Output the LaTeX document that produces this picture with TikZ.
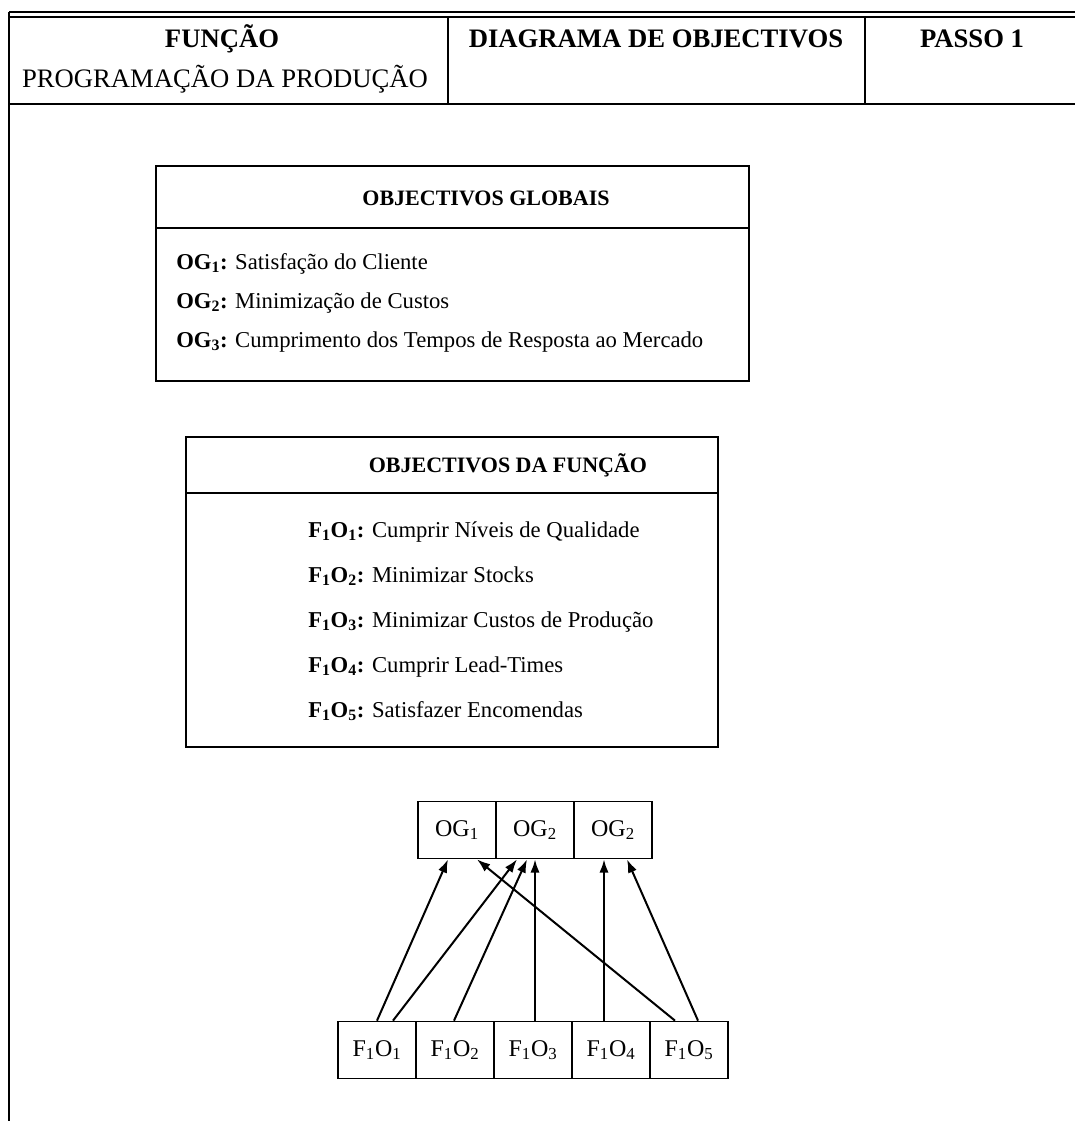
\documentclass[tikz,border=0pt]{standalone}
\usepackage{fontspec}
\setmainfont{Liberation Serif}
\usetikzlibrary{arrows.meta}
\begin{document}
\begin{tikzpicture}[x=0.75pt,y=-0.75pt,
  rule/.style={line width=1.4pt},
  thinrule/.style={line width=1.1pt},
  hdbold/.style={anchor=base,inner sep=0pt,font=\bfseries\fontsize{20}{24}\selectfont},
  hdreg/.style={anchor=base,inner sep=0pt,font=\fontsize{20}{24}\selectfont},
  boxtitle/.style={anchor=base,inner sep=0pt,font=\bfseries\fontsize{16.5}{20}\selectfont},
  row/.style={anchor=base west,inner sep=0pt,font=\fontsize{17}{20}\selectfont},
  panel/.style={draw,rule,anchor=north west,inner sep=0pt},
  cell/.style={draw,line width=1.3pt,minimum width=78*0.75pt,minimum height=57*0.75pt,
               inner sep=0pt,font=\fontsize{18}{20}\selectfont},
  link/.style={line width=1.5pt,-{Latex[length=10pt,width=7pt]}}
]
\useasboundingbox (0,0) rectangle (1075,1121);

% page frame and title block
\draw[thinrule] (9,12) -- (1075,12);
\draw[thinrule] (9,17) -- (1075,17);
\draw[line width=1.8pt] (9,104) -- (1075,104);
\draw[rule] (9,12) -- (9,1121);
\draw[rule] (448,17) -- (448,104);
\draw[rule] (865,17) -- (865,104);

\node[hdbold] (funcao) at (222,47) {FUNÇÃO};
\node[hdreg]  (prog)   at (225,87) {PROGRAMAÇÃO DA PRODUÇÃO};
\node[hdbold] (diag)   at (656,47) {DIAGRAMA DE OBJECTIVOS};
\node[hdbold] (passo)  at (972,47) {PASSO 1};

% global objectives panel
\node[panel,minimum width=593*0.75pt,minimum height=215*0.75pt] (og) at (155,165) {};
\draw[rule] (155,228) -- (748,228);
\node[boxtitle] (ogt) at (486,205) {OBJECTIVOS GLOBAIS};
\node[row] (og1t) at (176,269) {\textbf{OG\textsubscript{1}:} Satisfação do Cliente};
\node[row] (og2t) at (176,308) {\textbf{OG\textsubscript{2}:} Minimização de Custos};
\node[row] (og3t) at (176,347) {\textbf{OG\textsubscript{3}:} Cumprimento dos Tempos de Resposta ao Mercado};

% function objectives panel
\node[panel,minimum width=532*0.75pt,minimum height=310*0.75pt] (fo) at (185,436) {};
\draw[line width=2pt] (185,493) -- (717,493);
\node[boxtitle] (fot) at (508,472) {OBJECTIVOS DA FUNÇÃO};
\node[row] (fo1t) at (308,537) {\textbf{F\textsubscript{1}O\textsubscript{1}:} Cumprir Níveis de Qualidade};
\node[row] (fo2t) at (308,582) {\textbf{F\textsubscript{1}O\textsubscript{2}:} Minimizar Stocks};
\node[row] (fo3t) at (308,627) {\textbf{F\textsubscript{1}O\textsubscript{3}:} Minimizar Custos de Produção};
\node[row] (fo4t) at (308,672) {\textbf{F\textsubscript{1}O\textsubscript{4}:} Cumprir Lead-Times};
\node[row] (fo5t) at (308,717) {\textbf{F\textsubscript{1}O\textsubscript{5}:} Satisfazer Encomendas};

% relation diagram
\node[cell] (g1) at (457,830) {OG\textsubscript{1}};
\node[cell] (g2) at (535,830) {OG\textsubscript{2}};
\node[cell] (g3) at (613,830) {OG\textsubscript{2}};

\node[cell] (f1) at (377,1050) {F\textsubscript{1}O\textsubscript{1}};
\node[cell] (f2) at (455,1050) {F\textsubscript{1}O\textsubscript{2}};
\node[cell] (f3) at (533,1050) {F\textsubscript{1}O\textsubscript{3}};
\node[cell] (f4) at (611,1050) {F\textsubscript{1}O\textsubscript{4}};
\node[cell] (f5) at (689,1050) {F\textsubscript{1}O\textsubscript{5}};

\draw[link] (f1.north) -- ([xshift=-9*0.75pt]g1.south);
\draw[link] ([xshift=16*0.75pt]f1.north) -- ([xshift=-18*0.75pt]g2.south);
\draw[link] ([xshift=-1*0.75pt]f2.north) -- ([xshift=-8*0.75pt]g2.south);
\draw[link] ([xshift=2*0.75pt]f3.north) -- (g2.south);
\draw[link] ([xshift=-7*0.75pt]f4.north) -- ([xshift=-9*0.75pt]g3.south);
\draw[link] ([xshift=9*0.75pt]f5.north) -- ([xshift=14*0.75pt]g3.south);
\draw[link] ([xshift=-14*0.75pt]f5.north) -- ([xshift=20*0.75pt]g1.south);
\end{tikzpicture}
\end{document}
